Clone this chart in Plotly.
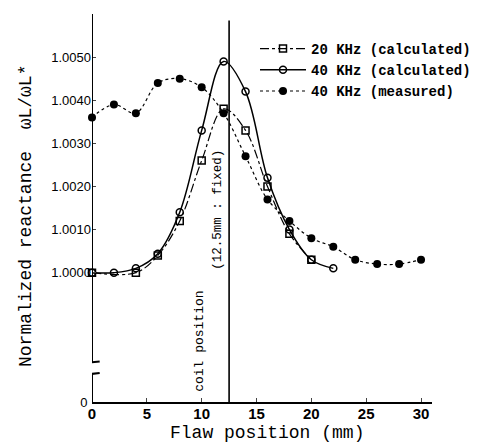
import plotly.graph_objects as go

# ---- data (flaw position in mm, normalized reactance) ----
x_20calc = [0, 4, 6, 8, 10, 12, 14, 16, 18, 20]
y_20calc = [1.0000, 1.0000, 1.0004, 1.0012, 1.0026, 1.0038, 1.0033, 1.0020, 1.0009, 1.0003]

x_40calc = [0, 2, 4, 6, 8, 10, 12, 14, 16, 18, 20, 22]
y_40calc = [1.0000, 1.0000, 1.0001, 1.00044, 1.0014, 1.0033, 1.0049, 1.0042, 1.0022, 1.0010, 1.0003, 1.0001]

x_40meas = [0, 2, 4, 6, 8, 10, 12, 14, 16, 18, 20, 22, 24, 26, 28, 30]
y_40meas = [1.0036, 1.0039, 1.0037, 1.0044, 1.0045, 1.0043, 1.0037, 1.0027, 1.0017,
            1.0012, 1.0008, 1.0006, 1.0003, 1.0002, 1.0002, 1.0003]

names = ["20 KHz (calculated)", "40 KHz (calculated)", "40 KHz (measured)"]

x_ticks = [0, 5, 10, 15, 20, 25, 30]
y_tick_values = [0, 1.0000, 1.0010, 1.0020, 1.0030, 1.0040, 1.0050]
y_tick_labels = ["0\u00a0", "1.0000", "1.0010", "1.0020", "1.0030", "1.0040", "1.0050"]

coil_pos = 12.5

# broken axis: 1.0000..1.0050 mapped to 0..50 ; "0" drawn at -30
ZERO_POS = -30


def tr(v):
    return [ZERO_POS if val == 0 else (val - 1.0) * 1e4 for val in v]


fig = go.Figure()
fig.add_trace(go.Scatter(
    x=x_20calc, y=tr(y_20calc), name=names[0], mode="lines+markers",
    line=dict(color="black", width=1.2, dash="dashdot", shape="spline"),
    marker=dict(symbol="square-open", size=7, color="black", line=dict(width=1.5)),
    cliponaxis=False))
fig.add_trace(go.Scatter(
    x=x_40calc, y=tr(y_40calc), name=names[1], mode="lines+markers",
    line=dict(color="black", width=1.5, shape="spline"),
    marker=dict(symbol="circle-open", size=7, color="black", line=dict(width=1.5)),
    cliponaxis=False))
fig.add_trace(go.Scatter(
    x=x_40meas, y=tr(y_40meas), name=names[2], mode="lines+markers",
    line=dict(color="black", width=1.2, dash="dot", shape="spline"),
    marker=dict(symbol="circle", size=8, color="black"),
    cliponaxis=False))

# y axis line with a break
fig.add_shape(type="line", xref="x", yref="y", x0=0, x1=0, y0=-20.9, y1=60,
              line=dict(color="black", width=2))
fig.add_shape(type="line", xref="x", yref="y", x0=0, x1=0, y0=ZERO_POS, y1=-23.3,
              line=dict(color="black", width=2))
fig.add_shape(type="line", xref="x", yref="y", x0=-0.5, x1=0.7, y0=-20.9, y1=-20.6,
              line=dict(color="black", width=2))
fig.add_shape(type="line", xref="x", yref="y", x0=-0.5, x1=0.7, y0=-23.6, y1=-23.3,
              line=dict(color="black", width=2))

# coil position line
fig.add_shape(type="line", xref="x", yref="y", x0=coil_pos, x1=coil_pos, y0=ZERO_POS, y1=58.5,
              line=dict(color="black", width=1.6))

mono = "Liberation Mono"
fig.add_annotation(xref="x", yref="y", x=(200 - 92) / 10.98, y=ZERO_POS + (402 - 341) / 4.31,
                   text="coil position", showarrow=False, textangle=-90,
                   xanchor="center", yanchor="middle",
                   font=dict(family=mono, size=13, color="black"))
fig.add_annotation(xref="x", yref="y", x=(218 - 92) / 10.98, y=ZERO_POS + (402 - 210) / 4.31,
                   text="(12.5mm : fixed)", showarrow=False, textangle=-90,
                   xanchor="center", yanchor="middle",
                   font=dict(family=mono, size=12.5, color="black"))

# axis titles
fig.add_annotation(xref="paper", yref="paper", x=(26 - 92) / 340, y=(402 - 216) / 388,
                   text="Normalized reactance  ωL/ωL*", showarrow=False, textangle=-90,
                   xanchor="center", yanchor="middle",
                   font=dict(family=mono, size=18, color="black"))
fig.add_annotation(xref="paper", yref="paper", x=(267 - 92) / 340, y=-(433 - 402) / 388,
                   text="Flaw position (mm)", showarrow=False,
                   xanchor="center", yanchor="middle",
                   font=dict(family=mono, size=18, color="black"))

# page body has an 8px margin, so the figure is 8px smaller and offset
fig.update_layout(
    width=474, height=437,
    margin=dict(l=84, r=50, t=6, b=43, autoexpand=False),
    paper_bgcolor="white", plot_bgcolor="white",
    showlegend=True,
    legend=dict(x=(255 - 92) / 340, y=(402 - 33) / 388, xanchor="left", yanchor="top",
                font=dict(family=mono, size=14, color="black", weight="bold"),
                bgcolor="rgba(0,0,0,0)", itemwidth=46, tracegroupgap=0),
    xaxis=dict(range=[0, 31], tickvals=x_ticks, ticks="inside", ticklen=4,
               showline=True, linecolor="black", linewidth=2, showgrid=False, zeroline=False,
               ticklabelstandoff=-3,
               tickfont=dict(family="Liberation Sans", size=15, color="black", weight="bold")),
    yaxis=dict(range=[ZERO_POS, 60], tickvals=tr(y_tick_values), ticktext=y_tick_labels,
               ticks="inside", ticklen=4, showline=False, showgrid=False, zeroline=False,
               tickfont=dict(family="Liberation Sans", size=13, color="black")),
)

fig.write_html("out.html")
